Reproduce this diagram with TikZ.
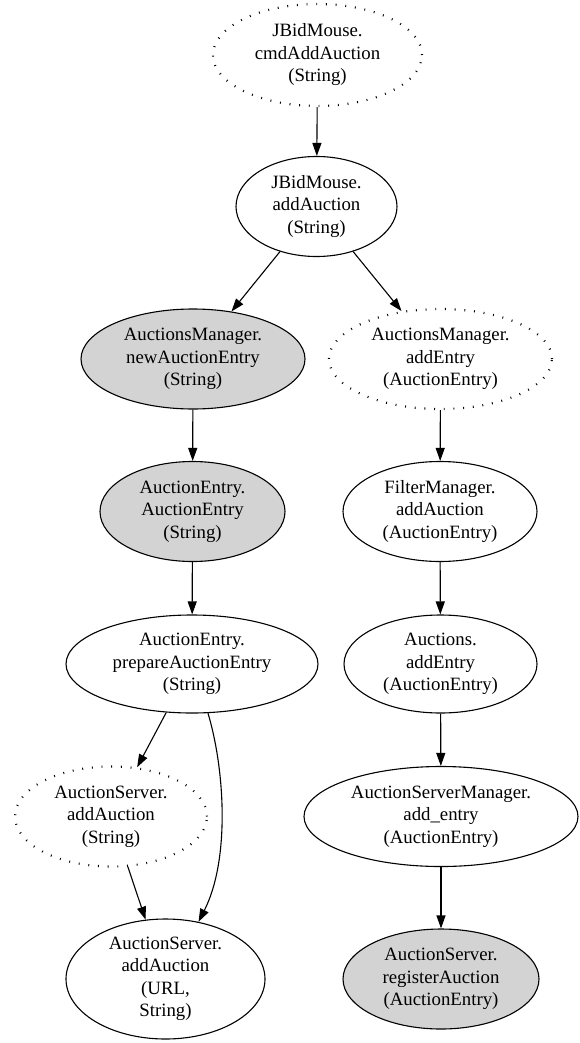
\documentclass[tikz,border=0pt]{standalone}
\usepackage{fontspec}
\setmainfont{Liberation Serif}
\usetikzlibrary{arrows.meta,shapes.geometric}
\definecolor{nodegray}{RGB}{211,211,211}
\begin{document}
\begin{tikzpicture}[x=1pt,y=-1pt,
  fn/.style={ellipse, draw, line width=1.1pt, inner sep=0pt, align=center,
    font=\fontsize{18.8}{22.5}\selectfont},
  dotbox/.style={fn, line width=2.2pt, dash pattern=on 0.9pt off 8.8pt},
  graybox/.style={fn, fill=nodegray},
  arr/.style={-{Triangle[length=13pt,width=9pt]}, line width=1.1pt}]
\useasboundingbox (0,0) rectangle (579,1043);

\node[dotbox, minimum width=209pt, minimum height=102pt] (n1) at (317.5,55) {JBidMouse.\\cmdAddAuction\\(String)};
\node[fn, minimum width=161pt, minimum height=100pt] (n2) at (316.5,206.5) {JBidMouse.\\addAuction\\(String)};
\node[graybox, minimum width=224pt, minimum height=100pt] (n3) at (193,359) {AuctionsManager.\\newAuctionEntry\\(String)};
\node[dotbox, minimum width=223pt, minimum height=100pt] (n4) at (440.5,359) {AuctionsManager.\\addEntry\\(AuctionEntry)};
\node[graybox, minimum width=185pt, minimum height=100pt] (n5) at (192.5,511.5) {AuctionEntry.\\AuctionEntry\\(String)};
\node[fn, minimum width=194pt, minimum height=100pt] (n6) at (440,511.5) {FilterManager.\\addAuction\\(AuctionEntry)};
\node[fn, minimum width=252pt, minimum height=98pt] (n7) at (192,664) {AuctionEntry.\\prepareAuctionEntry\\(String)};
\node[fn, minimum width=193pt, minimum height=98pt] (n8) at (440.5,664) {Auctions.\\addEntry\\(AuctionEntry)};
\node[dotbox, minimum width=192pt, minimum height=100pt] (n9) at (111,816.5) {AuctionServer.\\addAuction\\(String)};
\node[fn, minimum width=274pt, minimum height=100pt] (n10) at (441,816.5) {AuctionServerManager.\\add\_entry\\(AuctionEntry)};
\node[fn, minimum width=199pt, minimum height=120pt] (n11) at (165.5,979) {AuctionServer.\\addAuction\\(URL,\\String)};
\node[graybox, minimum width=196pt, minimum height=100pt] (n12) at (441,979) {AuctionServer.\\registerAuction\\(AuctionEntry)};

\draw[arr] (n1) -- (n2);
\draw[arr] (n2) -- (n3);
\draw[arr] (n2) -- (n4);
\draw[arr] (n3) -- (n5);
\draw[arr] (n4) -- (n6);
\draw[arr] (n5) -- (n7);
\draw[arr] (n6) -- (n8);
\draw[arr] (n7) -- (n9);
\draw[arr] (n7.-72) .. controls (225,770) and (230,860) .. (n11.60);
\draw[arr] (n9) -- (n11);
\draw[arr] (n8) -- (n10);
\draw[arr] (n10) -- (n12);
\end{tikzpicture}
\end{document}
